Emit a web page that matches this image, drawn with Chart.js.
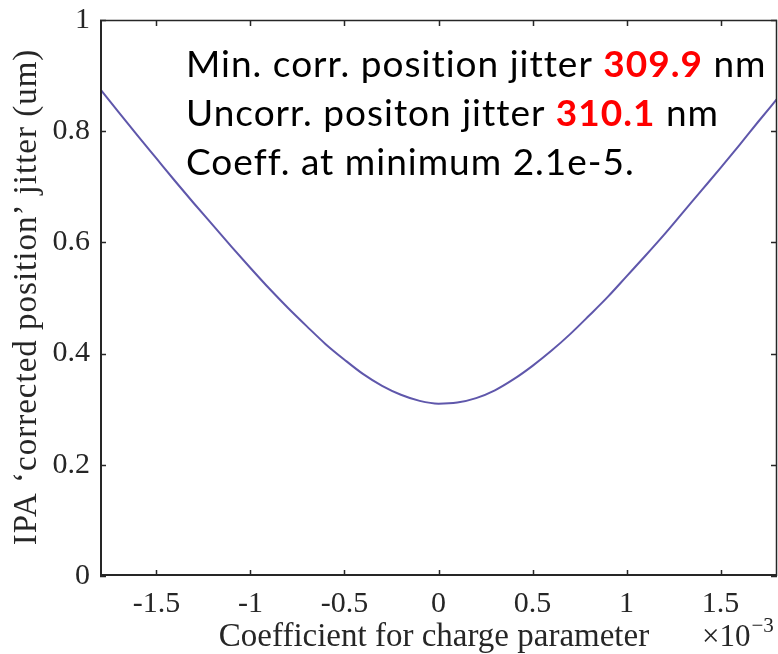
<!DOCTYPE html>
<html>
<head>
<meta charset="utf-8">
<script src="https://cdn.jsdelivr.net/npm/chart.js@4.4.1/dist/chart.umd.min.js"></script>
<style>
  html, body { margin: 0; padding: 0; background: #ffffff; }
  #wrap { width: 778px; height: 654px; }
</style>
</head>
<body>
<div id="wrap"><canvas id="c" width="778" height="654"></canvas></div>
<script>
// Charge-parameter coefficient (units of 1e-3) and resulting corrected jitter (um)
const coeff = [-1.8, -1.7, -1.6, -1.5, -1.4, -1.3, -1.2, -1.1, -1.0, -0.9, -0.8, -0.7, -0.6,
  -0.5, -0.4, -0.3, -0.2, -0.1, 0.0, 0.1, 0.2, 0.3, 0.4, 0.5, 0.6, 0.7, 0.8, 0.9, 1.0,
  1.1, 1.2, 1.3, 1.4, 1.5, 1.6, 1.7, 1.8];
const jitter = [0.876, 0.834, 0.792, 0.751, 0.710, 0.670, 0.631, 0.592, 0.554, 0.517, 0.482, 0.449, 0.417,
  0.389, 0.363, 0.342, 0.326, 0.315, 0.310, 0.312, 0.320, 0.334, 0.354, 0.378, 0.405, 0.435, 0.468, 0.502, 0.539,
  0.576, 0.614, 0.654, 0.694, 0.734, 0.775, 0.817, 0.858];
const xTicks = [-1.5, -1, -0.5, 0, 0.5, 1, 1.5];
const yTicks = [0, 0.2, 0.4, 0.6, 0.8, 1];

const xTitle = 'Coefficient for charge parameter';
const yTitle = 'IPA \u2018corrected position\u2019 jitter (um)';
const noteLines = [
  [['Min. corr. position jitter ', false], ['309.9', true], [' nm', false]],
  [['Uncorr. positon jitter ', false], ['310.1', true], [' nm', false]],
  [['Coeff. at minimum 2.1e-5.', false]]
];

const SERIF = '"Liberation Serif", "DejaVu Serif", serif';
const SANS = 'Lato, "Open Sans", "Liberation Sans", sans-serif';
const AXIS = '#262626';

const points = coeff.map((x, i) => ({ x: x, y: jitter[i] }));

// Box, inward ticks, axis titles, exponent and the text note
const decor = {
  id: 'decor',
  afterDraw(chart) {
    const ctx = chart.ctx;
    const a = chart.chartArea;
    const xs = chart.scales.x, ys = chart.scales.y;
    ctx.save();
    ctx.strokeStyle = AXIS;
    ctx.lineWidth = 1.5;
    ctx.beginPath();
    for (const v of xTicks) {
      const px = Math.round(xs.getPixelForValue(v)) + 0.5;
      ctx.moveTo(px, a.bottom); ctx.lineTo(px, a.bottom - 6);
      ctx.moveTo(px, a.top); ctx.lineTo(px, a.top + 6);
    }
    for (const v of yTicks) {
      const py = Math.round(ys.getPixelForValue(v)) + 0.5;
      ctx.moveTo(a.left, py); ctx.lineTo(a.left + 6, py);
      ctx.moveTo(a.right, py); ctx.lineTo(a.right - 6, py);
    }
    ctx.stroke();
    ctx.lineWidth = 1.5;
    ctx.beginPath();
    ctx.moveTo(a.left, a.top + 0.5); ctx.lineTo(a.right - 0.5, a.top + 0.5); ctx.lineTo(a.right - 0.5, a.bottom);
    ctx.stroke();
    ctx.lineWidth = 2;
    ctx.beginPath();
    ctx.moveTo(a.left + 1, a.top); ctx.lineTo(a.left + 1, a.bottom - 1); ctx.lineTo(a.right, a.bottom - 1);
    ctx.stroke();

    // axis titles
    ctx.fillStyle = AXIS;
    ctx.font = '33px ' + SERIF;
    ctx.textAlign = 'center';
    ctx.textBaseline = 'alphabetic';
    ctx.fillText(xTitle, 434, 646);

    ctx.save();
    ctx.translate(36, 297);
    ctx.rotate(-Math.PI / 2);
    ctx.font = '33px ' + SERIF;
    ctx.letterSpacing = '1px';
    ctx.fillText(yTitle, 0, 0);
    ctx.restore();

    // x10^-3 multiplier
    ctx.textAlign = 'left';
    ctx.font = '31px ' + SERIF;
    ctx.fillText('\u00d710', 702, 646);
    const w10 = ctx.measureText('\u00d710').width;
    ctx.font = '21px ' + SERIF;
    ctx.fillText('\u22123', 702 + w10 + 1, 632);

    // text note
    const size = 37;
    const baselines = [77, 126, 175];
    ctx.letterSpacing = '1px';
    noteLines.forEach((line, i) => {
      let x = 186;
      for (const [txt, bold] of line) {
        ctx.font = (bold ? 'bold ' : '') + size + 'px ' + SANS;
        ctx.fillStyle = bold ? '#ff0000' : '#000000';
        ctx.fillText(txt, x, baselines[i]);
        x += ctx.measureText(txt).width;
      }
    });
    ctx.restore();
  }
};

new Chart(document.getElementById('c'), {
  type: 'line',
  data: {
    datasets: [{
      data: points,
      borderColor: '#5f57ab',
      borderWidth: 2,
      pointRadius: 0,
      fill: false,
      cubicInterpolationMode: 'monotone'
    }]
  },
  options: {
    responsive: false,
    devicePixelRatio: 1,
    animation: false,
    layout: { padding: { top: 20, right: 1, left: 0, bottom: 0 } },
    plugins: { legend: { display: false }, tooltip: { enabled: false } },
    scales: {
      x: {
        type: 'linear',
        min: -1.8,
        max: 1.8,
        grid: { display: false },
        border: { display: false },
        afterBuildTicks: s => { s.ticks = xTicks.map(v => ({ value: v })); },
        afterFit: s => { s.height = 78; },
        ticks: {
          autoSkip: false,
          maxRotation: 0,
          padding: 2,
          color: AXIS,
          font: { family: SERIF, size: 30 },
          callback: v => String(v)
        }
      },
      y: {
        type: 'linear',
        min: 0,
        max: 1,
        grid: { display: false },
        border: { display: false },
        afterBuildTicks: s => { s.ticks = yTicks.map(v => ({ value: v })); },
        afterFit: s => { s.width = 100; },
        ticks: {
          autoSkip: false,
          padding: 2,
          color: AXIS,
          font: { family: SERIF, size: 30 },
          callback: v => String(v)
        }
      }
    }
  },
  plugins: [decor]
});
</script>
</body>
</html>
